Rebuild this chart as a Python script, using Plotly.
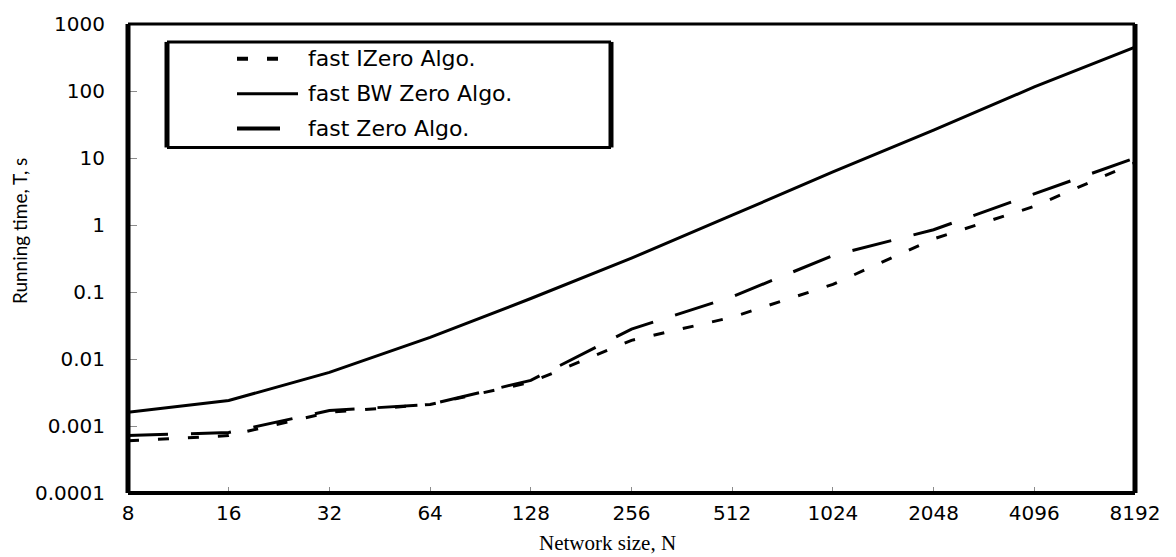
import math
import plotly.graph_objects as go

# Network sizes and measured running times (seconds)
network_size = [8, 16, 32, 64, 128, 256, 512, 1024, 2048, 4096, 8192]
t_bw_zero = [0.0016, 0.0024, 0.0063, 0.021, 0.08, 0.32, 1.4, 6.2, 26, 115, 450]
t_zero = [0.00072, 0.0008, 0.0017, 0.0021, 0.0048, 0.028, 0.085, 0.35, 0.85, 2.9, 10]
t_izero = [0.0006, 0.00072, 0.0016, 0.0021, 0.0045, 0.019, 0.042, 0.13, 0.62, 1.9, 8.5]

y_tick_vals = [0.0001, 0.001, 0.01, 0.1, 1, 10, 100, 1000]
y_tick_text = ["0.0001", "0.001", "0.01", "0.1", "1", "10", "100", "1000"]
x_tick_text = [str(n) for n in network_size]

series_names = ["fast IZero Algo.", "fast BW Zero Algo.", "fast Zero Algo."]

W, H = 1176, 557
ML, MR, MT, MB = 128, 41, 22, 64
PW, PH = W - ML - MR, H - MT - MB

IZERO_DASH = "11px,19px"
ZERO_DASH = "40px,23px"


def px(xp):
    return (xp - ML) / PW


def py(yp):
    return (H - MB - yp) / PH


fig = go.Figure()
fig.add_trace(go.Scatter(x=network_size, y=t_bw_zero, mode="lines", name=series_names[1],
                         line=dict(color="black", width=3), showlegend=False))
fig.add_trace(go.Scatter(x=network_size, y=t_zero, mode="lines", name=series_names[2],
                         line=dict(color="black", width=3, dash=ZERO_DASH), showlegend=False))
fig.add_trace(go.Scatter(x=network_size, y=t_izero, mode="lines", name=series_names[0],
                         line=dict(color="black", width=3, dash=IZERO_DASH), showlegend=False))

tick_font = dict(family="DejaVu Sans", size=20, color="black")

fig.update_xaxes(type="log", range=[math.log10(8), math.log10(8192)],
                 tickvals=network_size, ticktext=x_tick_text, tickfont=tick_font,
                 ticks="inside", ticklen=6, tickcolor="#8c8c8c", tickwidth=1,
                 showgrid=False, zeroline=False, showline=False, ticklabelstandoff=6)
fig.update_yaxes(type="log", range=[-4, 3],
                 tickvals=y_tick_vals, ticktext=y_tick_text, tickfont=tick_font,
                 ticks="inside", ticklen=9, tickcolor="#8c8c8c", tickwidth=1,
                 showgrid=False, zeroline=False, showline=False, ticklabelstandoff=22)

shapes = []
# plot frame: heavy left/right/bottom edges, lighter top edge
frame = [
    (0, 0, 0, 1, 5), (1, 0, 1, 1, 5), (0, 0, 1, 0, 4), (0, 1, 1, 1, 3),
]
for x0, y0, x1, y1, w in frame:
    shapes.append(dict(type="line", xref="paper", yref="paper", x0=x0, y0=y0, x1=x1, y1=y1,
                       line=dict(color="black", width=w), layer="above"))

# legend box
bx0, bx1, by0, by1 = 167, 611, 40, 146
box = [
    (bx0, by0, bx0, by1, 5), (bx1, by0, bx1, by1, 5), (bx0, by0, bx1, by0, 3), (bx0, by1, bx1, by1, 3),
]
for x0, y0, x1, y1, w in box:
    shapes.append(dict(type="line", xref="paper", yref="paper", x0=px(x0), y0=py(y0), x1=px(x1), y1=py(y1),
                       line=dict(color="black", width=w)))

# legend samples: (row y, start x, end x, dash, line width)
legend_rows = [
    (57, 237, 290, IZERO_DASH, 4),
    (92, 237, 298, "solid", 3),
    (127, 237, 280, "solid", 4),
]
annotations = []
for (yy, x0, x1, dash, lw), name in zip(legend_rows, series_names):
    shapes.append(dict(type="line", xref="paper", yref="paper", x0=px(x0), y0=py(yy), x1=px(x1), y1=py(yy),
                       line=dict(color="black", width=lw, dash=dash)))
    annotations.append(dict(text=name, xref="paper", yref="paper", x=px(306), y=py(yy),
                            xanchor="left", yanchor="middle", showarrow=False,
                            font=dict(family="DejaVu Sans", size=22, color="black")))

annotations.append(dict(text="Network size, N", xref="paper", yref="paper", x=px(607), y=py(543),
                        xanchor="center", yanchor="middle", showarrow=False,
                        font=dict(family="Liberation Serif", size=21, color="black")))
annotations.append(dict(text="Running time, T, s", xref="paper", yref="paper", x=px(19), y=py(230),
                        xanchor="center", yanchor="middle", showarrow=False, textangle=-90,
                        font=dict(family="Lato", size=19, color="black")))

fig.update_layout(width=W, height=H, margin=dict(l=ML, r=MR, t=MT, b=MB),
                  paper_bgcolor="white", plot_bgcolor="white",
                  shapes=shapes, annotations=annotations, showlegend=False)

fig.write_html("out.html")
